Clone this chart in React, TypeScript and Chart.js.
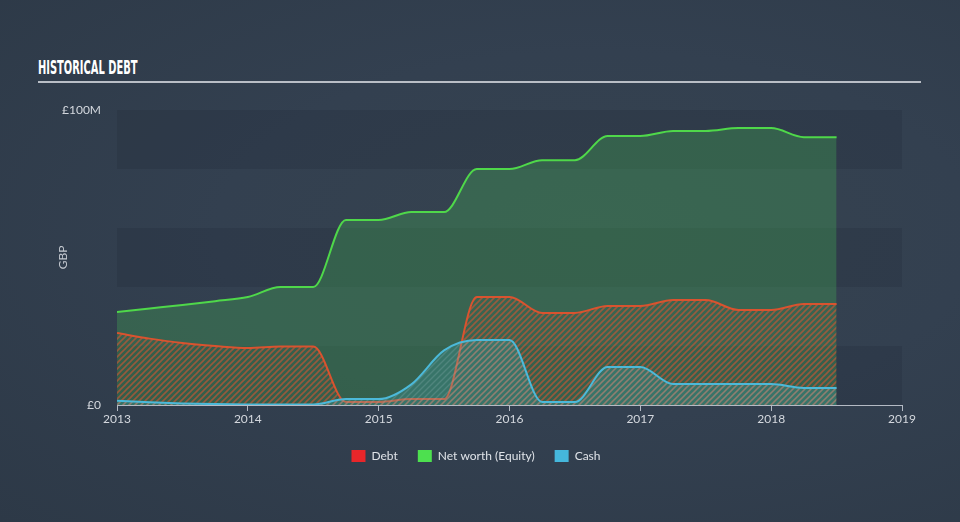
import React, { useEffect, useRef } from "react";
import { Chart, registerables } from "chart.js";

Chart.register(...registerables);

const quarters = [
  2013, 2013.25, 2013.5, 2013.75, 2014, 2014.25, 2014.5, 2014.75, 2015, 2015.25, 2015.5, 2015.75,
  2016, 2016.25, 2016.5, 2016.75, 2017, 2017.25, 2017.5, 2017.75, 2018, 2018.25, 2018.5,
];
const debtValues = [
  24.4, 22.5, 21, 20, 19.3, 19.8, 19.8, 1, 1, 2, 2, 36.6,
  36.6, 31.2, 31.2, 33.6, 33.6, 35.6, 35.6, 32.2, 32.2, 34.2, 34.2,
];
const equityValues = [
  31.5, 32.7, 33.9, 35.2, 36.6, 40, 40, 62.7, 62.7, 65.4, 65.4, 80,
  80, 83, 83, 91.2, 91.2, 92.9, 92.9, 93.9, 93.9, 90.8, 90.8,
];
const cashValues = [
  1.4, 0.9, 0.5, 0.3, 0.2, 0.2, 0.2, 2, 2, 7, 18.5, 22,
  22, 1, 1, 12.9, 12.9, 7.1, 7.1, 7.1, 7.1, 5.8, 5.8,
];
const seriesNames = ["Debt", "Net worth (Equity)", "Cash"];
const yTickLabels: Record<number, string> = { 0: "£0", 100: "£100M" };
const yearTicks = [2013, 2014, 2015, 2016, 2017, 2018, 2019];

function makeHatch(stripe: string, base: string | null, width: number) {
  const size = 6;
  const c = document.createElement("canvas");
  c.width = size;
  c.height = size;
  const g = c.getContext("2d")!;
  if (base) {
    g.fillStyle = base;
    g.fillRect(0, 0, size, size);
  }
  g.strokeStyle = stripe;
  g.lineWidth = width;
  g.beginPath();
  for (const o of [-size, 0, size]) {
    g.moveTo(o - 1, size + 1);
    g.lineTo(o + size + 1, -1);
  }
  g.stroke();
  return g.createPattern(c, "repeat")!;
}

const bandsPlugin = {
  id: "bands",
  beforeDatasetsDraw(chart: any) {
    const { ctx, chartArea, scales } = chart;
    const y = scales.y;
    ctx.save();
    for (let i = 0; i < 5; i++) {
      const top = y.getPixelForValue(100 - i * 20);
      const bottom = y.getPixelForValue(80 - i * 20);
      ctx.fillStyle = i % 2 === 0 ? "rgba(22,32,46,0.16)" : "rgba(255,255,255,0.0)";
      ctx.fillRect(chartArea.left, top, chartArea.right - chartArea.left, bottom - top);
    }
    ctx.restore();
  },
};

export default function App() {
  const ref = useRef<HTMLCanvasElement>(null);

  useEffect(() => {
    document.body.style.margin = "0";
    const canvas = ref.current!;
    const debtPattern = makeHatch("rgba(215,85,50,0.6)", null, 1.6);
    const cashPattern = makeHatch("rgba(170,190,195,0.22)", "rgba(70,190,210,0.22)", 1.4);

    const pts = (vals: number[]) => quarters.map((x, i) => ({ x, y: vals[i] }));

    const chart = new Chart(canvas, {
      type: "line",
      data: {
        datasets: [
          {
            label: seriesNames[0],
            data: pts(debtValues),
            borderColor: "#d9532f",
            backgroundColor: debtPattern as any,
            borderWidth: 2,
            fill: "origin",
            pointRadius: 0,
            cubicInterpolationMode: "monotone",
            order: 2,
          },
          {
            label: seriesNames[1],
            data: pts(equityValues),
            borderColor: "#4fd84a",
            backgroundColor: "rgba(67,170,85,0.34)",
            borderWidth: 2,
            fill: "origin",
            pointRadius: 0,
            cubicInterpolationMode: "monotone",
            order: 3,
          },
          {
            label: seriesNames[2],
            data: pts(cashValues),
            borderColor: "#4cb9d9",
            backgroundColor: cashPattern as any,
            borderWidth: 2,
            fill: "origin",
            pointRadius: 0,
            cubicInterpolationMode: "monotone",
            order: 1,
          },
        ],
      },
      options: {
        responsive: false,
        animation: false,
        layout: { padding: { left: 50, right: 58, top: 110, bottom: 50 } },
        plugins: {
          tooltip: { enabled: false },
          legend: {
            position: "bottom",
            labels: {
              boxWidth: 14,
              boxHeight: 12,
              padding: 20,
              color: "#dfe3e8",
              font: { family: "Lato", size: 12 },
              sort: (a: any, b: any) => a.datasetIndex - b.datasetIndex,
              generateLabels: (c: any) =>
                c.data.datasets.map((d: any, i: number) => ({
                  text: d.label,
                  fillStyle: ["#e8262a", "#4de04f", "#45b7dc"][i],
                  strokeStyle: "rgba(0,0,0,0)",
                  lineWidth: 0,
                  datasetIndex: i,
                  fontColor: "#dfe3e8",
                })),
            },
          },
        },
        scales: {
          x: {
            type: "linear",
            min: yearTicks[0],
            max: yearTicks[yearTicks.length - 1],
            afterBuildTicks: (s: any) => {
              s.ticks = yearTicks.map((v) => ({ value: v }));
            },
            afterFit: (s: any) => {
              s.height = 25;
            },
            ticks: {
              callback: (v: any) => String(v),
              color: "#d4d8de",
              font: { family: "Lato", size: 12 },
              padding: 1,
              maxRotation: 0,
            },
            grid: {
              drawOnChartArea: false,
              drawTicks: true,
              tickLength: 6,
              color: "#b4bac4",
              lineWidth: 1,
            },
            border: { display: true, color: "#b4bac4", width: 1 },
          },
          y: {
            min: 0,
            max: 100,
            afterBuildTicks: (s: any) => {
              s.ticks = [0, 20, 40, 60, 80, 100].map((v) => ({ value: v }));
            },
            afterFit: (s: any) => {
              s.width = 67;
            },
            ticks: {
              callback: (v: any) => yTickLabels[v] ?? "",
              color: "#d4d8de",
              font: { family: "Lato", size: 12 },
              padding: 16,
            },
            grid: { display: false, drawTicks: false },
            border: { display: false },
            title: {
              display: true,
              text: "GBP",
              color: "#c4c9d0",
              font: { family: "Lato", size: 12 },
              padding: { top: 6, bottom: 0 },
            },
          },
        },
      },
      plugins: [bandsPlugin],
    });
    return () => chart.destroy();
  }, []);

  return (
    <div
      style={{
        position: "relative",
        width: 960,
        height: 522,
        overflow: "hidden",
        background: "radial-gradient(ellipse at 62% 45%, #36434f 0%, #334050 45%, #2d3947 100%)",
      }}
    >
      <div
        style={{
          position: "absolute",
          left: 38,
          top: 56,
          width: 883,
          height: 25,
          borderBottom: "2px solid #b9bec6",
        }}
      >
        <span
          style={{
            display: "inline-block",
            fontFamily: "'Liberation Sans Narrow', 'DejaVu Sans Condensed', sans-serif",
            fontWeight: 700,
            fontSize: 20,
            lineHeight: "22px",
            color: "#ffffff",
            transform: "scaleX(0.55)",
            transformOrigin: "left center",
            whiteSpace: "nowrap",
          }}
        >
          HISTORICAL DEBT
        </span>
      </div>
      <canvas ref={ref} width={960} height={522} style={{ position: "absolute", left: 0, top: 0 }} />
    </div>
  );
}
